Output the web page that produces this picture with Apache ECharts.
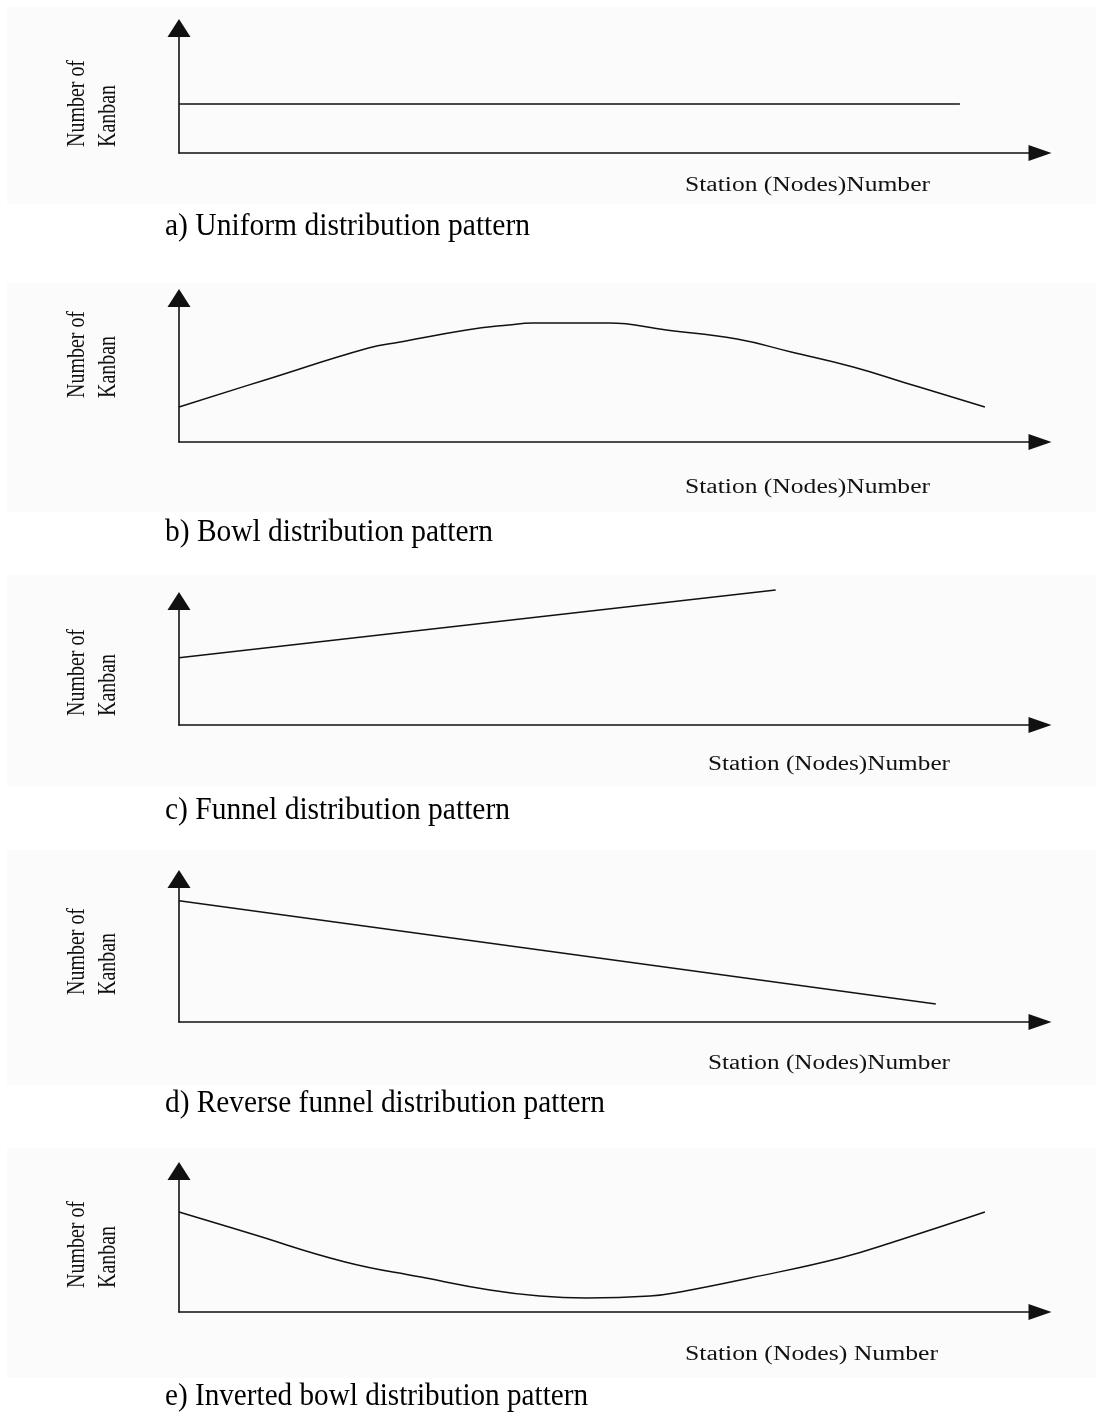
<!DOCTYPE html>
<html>
<head>
<meta charset="utf-8">
<script src="https://cdn.jsdelivr.net/npm/echarts@6/dist/echarts.min.js"></script>
<style>
html,body{margin:0;padding:0;background:#fff;}
#chart{width:1096px;height:1416px;}
</style>
</head>
<body>
<div id="chart"></div>
<script>
// ---- Data (station position 0-100 along the x axis, number of kanban 0-100 up the y axis) ----
const uniformStation = [0, 90.7];
const uniformKanban  = [39.2, 39.2];

const bowlStation = [0, 10.0, 22.0, 25.7, 33.4, 38.3, 41.1, 49.9, 56.6, 64.8, 71.1, 78.3, 84.4, 93.6];
const bowlKanban  = [24.3, 43.1, 65.3, 69.4, 77.8, 81.3, 82.6, 82.6, 77.8, 71.5, 62.5, 52.1, 41.0, 24.3];

const funnelStation = [0, 69.3];
const funnelKanban  = [54.3, 108.9];

const reverseStation = [0, 87.9];
const reverseKanban  = [84.8, 12.6];

const invertedStation = [0, 8.1, 19.3, 28.1, 36.1, 41.9, 47.3, 54.7, 58.2, 66.3, 76.8, 83.7, 93.6];
const invertedKanban  = [70.9, 56.0, 35.5, 24.8, 15.6, 11.3, 9.9, 11.3, 14.2, 24.1, 38.3, 51.1, 70.9];

const captions = [
  'a) Uniform distribution pattern',
  'b) Bowl distribution pattern',
  'c) Funnel distribution pattern',
  'd) Reverse funnel distribution pattern',
  'e) Inverted bowl distribution pattern'
];
const xTitles = [
  'Station (Nodes)Number',
  'Station (Nodes)Number',
  'Station (Nodes)Number',
  'Station (Nodes)Number',
  'Station (Nodes) Number'
];
const yTitleLines = ['Number of', 'Kanban'];

// ---- Layout ----
const panels = [
  {top: 28,   axisY: 153,  bg: [7, 204],    cap: 227,  xt: [685, 186, 245],  yl: 147, smooth: 0},
  {top: 298,  axisY: 442,  bg: [283, 512],  cap: 533,  xt: [685, 488, 245],  yl: 398, smooth: 0.45},
  {top: 601,  axisY: 725,  bg: [575, 787],  cap: 811,  xt: [708, 765, 242],  yl: 716, smooth: 0},
  {top: 879,  axisY: 1022, bg: [850, 1085], cap: 1104, xt: [708, 1064, 242], yl: 995, smooth: 0},
  {top: 1171, axisY: 1312, bg: [1148, 1378],cap: 1397, xt: [685, 1355, 253], yl: 1288, smooth: 0.45}
];
const seriesData = [
  [uniformStation, uniformKanban],
  [bowlStation, bowlKanban],
  [funnelStation, funnelKanban],
  [reverseStation, reverseKanban],
  [invertedStation, invertedKanban]
];

const mctx = document.createElement('canvas').getContext('2d');
function measure(text, font){ mctx.font = font; return mctx.measureText(text).width; }

const SERIF = '"Liberation Serif", "Times New Roman", serif';
const capFont = '31px ' + SERIF;
const capTargets = [365, 328, 345, 440, 423];
const xtFont = '20px ' + SERIF;
const ytFont = '26px ' + SERIF;
const ytScale = 87 / measure(yTitleLines[0], ytFont);

const grids = [], xAxes = [], yAxes = [], series = [], graphics = [];
panels.forEach((p, i) => {
  graphics.push({type: 'rect', silent: true, z: -10,
    shape: {x: 7, y: p.bg[0], width: 1089, height: p.bg[1] - p.bg[0]},
    style: {fill: '#fbfbfb'}});
  grids.push({left: 179, width: 861, top: p.top, height: p.axisY - p.top});
  xAxes.push({type: 'value', gridIndex: i, min: 0, max: 100,
    axisLine: {show: true, symbol: ['none', 'triangle'], symbolSize: [16, 23],
      lineStyle: {color: '#111', width: 1.6}},
    axisTick: {show: false}, axisLabel: {show: false}, splitLine: {show: false}});
  yAxes.push({type: 'value', gridIndex: i, min: 0, max: 100,
    axisLine: {show: true, symbol: ['none', 'triangle'], symbolSize: [23, 18],
      lineStyle: {color: '#111', width: 1.6}},
    axisTick: {show: false}, axisLabel: {show: false}, splitLine: {show: false}});
  const [xs, ys] = seriesData[i];
  series.push({type: 'line', xAxisIndex: i, yAxisIndex: i, showSymbol: false, symbol: 'none',
    smooth: p.smooth, clip: false, silent: true,
    lineStyle: {color: '#111', width: 1.5},
    data: xs.map((x, k) => [x, ys[k]])});
  // caption
  graphics.push({type: 'text', silent: true, x: 165, y: p.cap,
    scaleX: capTargets[i] / measure(captions[i], capFont),
    style: {text: captions[i], font: capFont, fill: '#000', align: 'left', verticalAlign: 'middle'}});
  // x title
  graphics.push({type: 'text', silent: true, x: p.xt[0], y: p.xt[1],
    scaleX: p.xt[2] / measure(xTitles[i], xtFont),
    style: {text: xTitles[i], font: xtFont, fill: '#111', align: 'left', verticalAlign: 'middle'}});
  // y title (two rotated lines, bottom aligned)
  [77, 108].forEach((cx, li) => {
    graphics.push({type: 'text', silent: true, x: cx, y: p.yl, rotation: Math.PI / 2,
      scaleX: ytScale,
      style: {text: yTitleLines[li], font: ytFont, fill: '#111', align: 'left', verticalAlign: 'middle'}});
  });
});

const chart = echarts.init(document.getElementById('chart'), null, {renderer: 'canvas'});
chart.setOption({
  animation: false,
  backgroundColor: '#ffffff',
  grid: grids, xAxis: xAxes, yAxis: yAxes, series: series,
  graphic: {elements: graphics}
});
</script>
</body>
</html>
